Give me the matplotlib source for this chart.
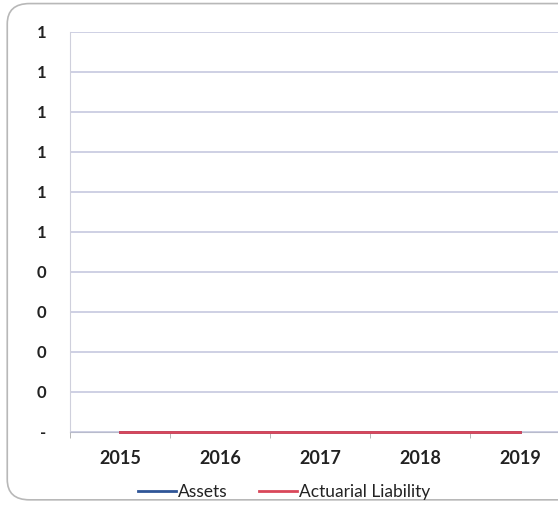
import matplotlib.pyplot as plt
from matplotlib.patches import FancyBboxPatch
from matplotlib.ticker import FuncFormatter
import numpy as np

years = ["2015", "2016", "2017", "2018", "2019"]
assets = [0, 0, 0, 0, 0]
actuarial_liability = [0, 0, 0, 0, 0]
y_ticks = [0.0, 0.1, 0.2, 0.3, 0.4, 0.5, 0.6, 0.7, 0.8, 0.9, 1.0]

plt.rcParams["font.family"] = ["Lato", "DejaVu Sans"]

fig = plt.figure(figsize=(5.58, 5.09), dpi=100)

# chart frame with rounded corners
frame = FancyBboxPatch((0.013, 0.018), 1.2, 0.975, boxstyle="round,pad=0,rounding_size=0.04",
                       transform=fig.transFigure, facecolor="none", edgecolor="#b8b8b8",
                       linewidth=1.2, zorder=-1)
fig.patches.append(frame)

ax = fig.add_axes([70 / 558, 1 - 432 / 509, 500 / 558, 400 / 509])
ax.set_facecolor("none")

x = np.arange(len(years))
ax.plot(x, assets, color="#2f5597", linewidth=2, label="Assets", zorder=3, clip_on=False)
ax.plot(x, actuarial_liability, color="#d9475a", linewidth=2, label="Actuarial Liability",
        zorder=4, clip_on=False)

ax.set_xlim(-0.5, len(years) - 0.5)
ax.set_ylim(0, 1.0)
ax.set_yticks(y_ticks)


def fmt_tick(v, pos):
    # whole-number format, zero shown as a dash
    if abs(v) < 1e-9:
        return "-"
    return "1" if v >= 0.5 else "0"


ax.yaxis.set_major_formatter(FuncFormatter(fmt_tick))
ax.grid(axis="y", color="#cacde2", linewidth=1.3)
ax.set_axisbelow(True)

ax.set_xticks(x)
ax.set_xticklabels(years)
ax.set_xticks(np.arange(len(years) + 1) - 0.5, minor=True)
ax.tick_params(axis="x", which="major", length=0, pad=13, labelsize=13, labelcolor="#222222")
ax.tick_params(axis="x", which="minor", length=4, color="#aaaaaa")
ax.tick_params(axis="y", length=0, pad=17, labelsize=12, labelcolor="#222222")
for lab in ax.get_xticklabels() + ax.get_yticklabels():
    lab.set_fontweight("bold")

for side in ["top", "right"]:
    ax.spines[side].set_visible(False)
ax.spines["left"].set_color("#cfd0dc")
ax.spines["bottom"].set_color("#b8bbcc")

leg = fig.legend(loc="center", bbox_to_anchor=(284 / 558, 1 - 492 / 509), ncol=2, frameon=False,
                 fontsize=12.5, handlelength=2.2, handletextpad=0.1, columnspacing=1.8)
for t in leg.get_texts():
    t.set_color("#222222")

fig.savefig("out.png", dpi=100)
